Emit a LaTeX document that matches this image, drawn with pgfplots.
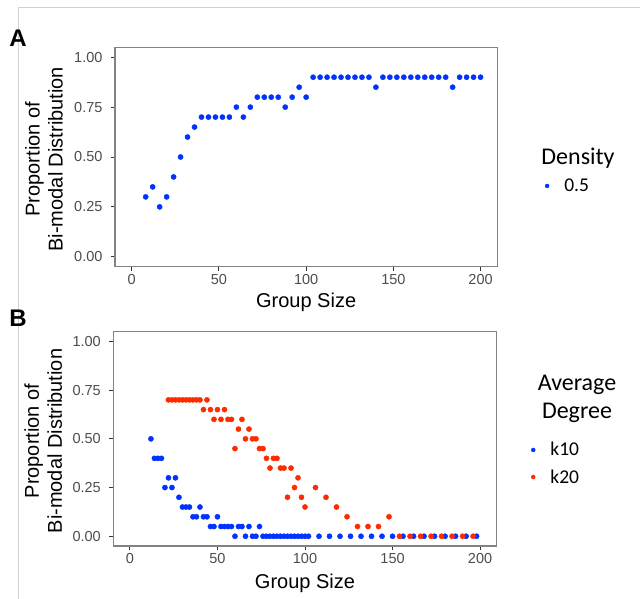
\documentclass[border=0pt]{standalone}
\usepackage{fontspec}
\setmainfont{Liberation Sans}
\newfontfamily\carlito{Carlito}
\usepackage{pgfplots}
\usepackage{pgfplotstable}
\pgfplotsset{compat=1.18}

\definecolor{ptblue}{RGB}{0,51,255}
\definecolor{ptred}{RGB}{255,43,0}
\definecolor{tickgray}{RGB}{77,77,77}
\definecolor{framegray}{RGB}{130,130,130}
\definecolor{pagegray}{RGB}{210,210,210}

% panel A: density 0.5
\pgfplotstableread{
x y
8 0.30
12 0.35
16 0.25
20 0.30
24 0.40
28 0.50
32 0.60
36 0.65
40 0.70
44 0.70
48 0.70
52 0.70
56 0.70
60 0.75
64 0.70
68 0.75
72 0.80
76 0.80
80 0.80
84 0.80
88 0.75
92 0.80
96 0.85
100 0.80
104 0.90
108 0.90
112 0.90
116 0.90
120 0.90
124 0.90
128 0.90
132 0.90
136 0.90
140 0.85
144 0.90
148 0.90
152 0.90
156 0.90
160 0.90
164 0.90
168 0.90
172 0.90
176 0.90
180 0.90
184 0.85
188 0.90
192 0.90
196 0.90
200 0.90
}\densA

% panel B: k10
\pgfplotstableread{
x y
12 0.50
14 0.40
16 0.40
18 0.40
20 0.25
22 0.30
24 0.25
26 0.30
28 0.20
30 0.15
32 0.15
34 0.15
36 0.10
38 0.10
40 0.15
42 0.10
44 0.10
46 0.05
48 0.05
50 0.10
52 0.05
54 0.05
56 0.05
58 0.05
60 0.00
62 0.05
64 0.05
66 0.00
68 0.05
70 0.00
72 0.00
74 0.05
76 0.00
78 0.00
80 0.00
82 0.00
84 0.00
86 0.00
88 0.00
90 0.00
92 0.00
94 0.00
96 0.00
98 0.00
100 0.00
102 0.00
108 0.00
114 0.00
120 0.00
126 0.00
132 0.00
138 0.00
144 0.00
150 0.00
156 0.00
162 0.00
168 0.00
174 0.00
180 0.00
186 0.00
192 0.00
198 0.00
}\kten

% panel B: k20
\pgfplotstableread{
x y
22 0.70
24 0.70
26 0.70
28 0.70
30 0.70
32 0.70
34 0.70
36 0.70
38 0.70
40 0.70
42 0.65
44 0.70
46 0.65
48 0.60
50 0.65
52 0.60
54 0.65
56 0.60
58 0.60
60 0.45
62 0.55
64 0.60
66 0.50
68 0.55
70 0.50
72 0.50
74 0.45
76 0.45
78 0.40
80 0.35
82 0.40
84 0.40
86 0.35
88 0.35
90 0.20
92 0.35
94 0.25
96 0.30
98 0.20
100 0.15
106 0.25
112 0.20
118 0.15
124 0.10
130 0.05
136 0.05
142 0.05
148 0.10
154 0.00
160 0.00
166 0.00
172 0.00
178 0.00
184 0.00
190 0.00
196 0.00
}\ktwenty

\pgfplotsset{
  panel/.style={
    scale only axis,
    xmin=-9.6, xmax=209.6, ymin=-0.05, ymax=1.05,
    axis line style={framegray, line width=1.1pt},
    tick align=outside, tick pos=left,
    major tick length=4pt,
    tick style={black!80, line width=0.9pt},
    xtick={0,50,100,150,200}, xticklabels={0,50,100,150,200},
    ytick={0,0.25,0.5,0.75,1}, yticklabels={0.00,0.25,0.50,0.75,1.00},
    ticklabel style={font=\fontsize{14.5}{14.5}\selectfont, text=tickgray},
    yticklabel style={xshift=-5pt},
    label style={font=\fontsize{20}{23}\selectfont},
    xlabel={Group Size},
    ylabel={Proportion of\\Bi-modal Distribution},
    xlabel style={at={(axis description cs:0.5,-0.164)}, anchor=center},
    ylabel style={align=center, at={(axis description cs:-0.186,0.49)}, anchor=center},
    legend style={draw=none, fill=none, inner sep=0pt, row sep=8pt,
      nodes={inner sep=2pt},
      font=\carlito\fontsize{19.5}{19.5}\selectfont},
    legend cell align=left,
  },
  dots/.style={only marks, mark=*, mark size=2.6pt,
    legend image code/.code={\draw[##1, mark size=2pt] plot coordinates {(0pt,0pt)};
      \path (-2pt,0pt) (15pt,0pt);}},
}

\begin{document}
\begin{tikzpicture}
\useasboundingbox (0pt,0pt) rectangle (640pt,599pt);
\draw[pagegray, line width=0.8pt] (18pt,0pt) -- (18pt,592pt) -- (640pt,592pt);

\node[font=\bfseries\fontsize{24}{24}\selectfont] at (18pt,561pt) {A};
\node[font=\bfseries\fontsize{24}{24}\selectfont] at (18pt,281pt) {B};

\begin{axis}[panel, at={(115pt,332.3pt)}, anchor=south west,
    width=382.3pt, height=219.4pt,
    legend style={at={(axis description cs:1.124,0.368)}, anchor=west}]
  \addplot[dots, color=ptblue] table[x=x, y=y] {\densA};
  \addlegendentry{0.5}
\end{axis}
\node[font=\carlito\fontsize{24}{24}\selectfont] at (578pt,441pt) {Density};

\begin{axis}[panel, at={(113.3pt,53pt)}, anchor=south west,
    width=383.4pt, height=214.3pt, xmin=-9.5, xmax=209.5,
    xlabel style={at={(axis description cs:0.5,-0.172)}},
    ylabel style={at={(axis description cs:-0.183,0.49)}},
    legend style={at={(axis description cs:1.089,0.385)}, anchor=west}]
  \addplot[dots, color=ptblue] table[x=x, y=y] {\kten};
  \addlegendentry{k10}
  \addplot[dots, color=ptred] table[x=x, y=y] {\ktwenty};
  \addlegendentry{k20}
\end{axis}
\node[font=\carlito\fontsize{24}{28}\selectfont, align=center] at (577pt,200pt) {Average\\Degree};
\end{tikzpicture}
\end{document}
